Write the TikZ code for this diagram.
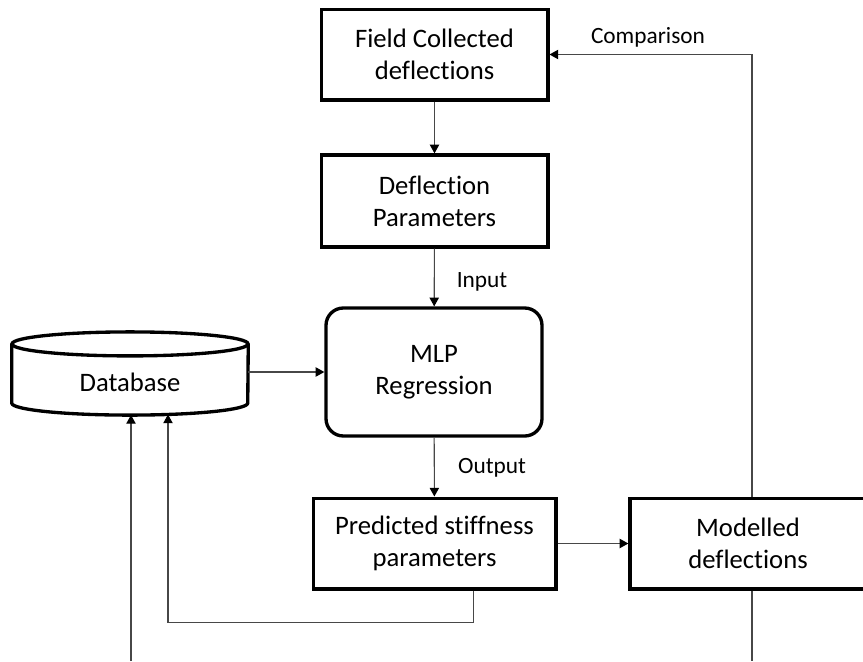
\documentclass[tikz,border=0pt]{standalone}
\usepackage{fontspec}
\setmainfont[Ligatures=CommonOff]{Carlito}
\usetikzlibrary{arrows.meta,calc}

\tikzset{
  box/.style={draw=black, line width=2.5pt, fill=white, align=center,
    font=\fontsize{20}{24}\selectfont, inner sep=0pt},
  conn/.style={draw=black!72, line width=0.8pt,
    -{Triangle[length=6.5pt,width=7pt,color=black]}},
  plain/.style={draw=black!72, line width=0.8pt},
  lbl/.style={font=\fontsize{17.5}{21}\selectfont, inner sep=0pt},
}

\begin{document}
\begin{tikzpicture}[x=0.75pt,y=-0.75pt]
  \useasboundingbox (0,0) rectangle (863,661);
  \clip (0,0) rectangle (863,661);

  % process boxes
  \node[box, minimum width=170pt, minimum height=68pt] (field) at (434.5,54.5)
    {Field Collected\\deflections};
  \node[box, minimum width=170pt, minimum height=69pt] (defl) at (434.5,201)
    {Deflection\\Parameters};
  \node[box, rounded corners=13pt, minimum width=162pt, minimum height=96pt] (mlp)
    at (434,372) {MLP\\Regression};
  \node[box, minimum width=182pt, minimum height=68pt] (pred) at (434.5,543.5)
    {Predicted stiffness\\parameters};
  \node[box, minimum width=177pt, minimum height=68pt] (mod) at (748,543.5)
    {Modelled\\deflections};

  % database cylinder
  \node[minimum width=177pt, minimum height=62pt, inner sep=0pt] (db) at (130,373.5) {};
  \node[font=\fontsize{20}{24}\selectfont, inner sep=0pt] (dblabel) at (130,382) {Database};
  \draw[black, line width=2.5pt, line join=round]
    ([yshift=-9pt]db.north west) -- ([yshift=9pt]db.south west)
    arc[start angle=180, end angle=360, x radius=88.5pt, y radius=9pt]
    -- ([yshift=-9pt]db.north east);
  \draw[black, line width=2.5pt] ([yshift=-9pt]db.north)
    ellipse[x radius=88.5pt, y radius=9pt];

  % connector end points
  \coordinate (dbinA) at (131,415);
  \coordinate (dbinB) at (168,414.5);
  \coordinate (srcA) at (131,661);
  \coordinate (sinkB) at (752,661);

  % connectors
  \draw[conn] (field) -- (defl);
  \draw[conn] (defl) -- (mlp);
  \draw[conn] (mlp) -- (pred);
  \draw[conn] (db.east |- mlp.west) -- (mlp.west);
  \draw[conn] (pred) -- (mod);
  \draw[conn] ([xshift=3pt]mod.north) |- (field.east);
  \draw[conn] ([xshift=29pt]pred.south) -- ++(0,32) -| (dbinB);
  \draw[conn] (srcA) -- (dbinA);
  \draw[plain] ([xshift=3pt]mod.south) -- (sinkB);

  % connector labels
  \node[lbl] (lin) at (482,282) {Input};
  \node[lbl] (lout) at (492,468) {Output};
  \node[lbl] (lcmp) at (648,37) {Comparison};
\end{tikzpicture}
\end{document}
